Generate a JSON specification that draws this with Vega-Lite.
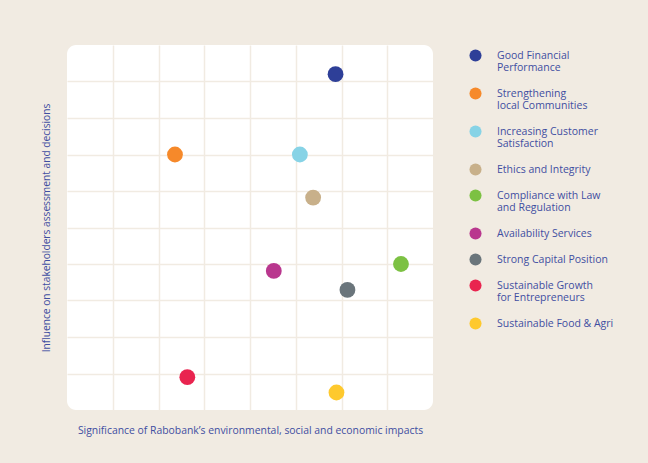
{
  "$schema": "https://vega.github.io/schema/vega-lite/v6.json",
  "width": 366,
  "height": 365,
  "autosize": {"type": "none"},
  "padding": {"left": 67, "top": 45, "right": 215, "bottom": 53},
  "background": "#f1ebe2",
  "config": {
    "view": {"fill": "#ffffff", "stroke": null, "cornerRadius": 9},
    "font": "Open Sans",
    "style": {"guide-label": {"lineHeight": 12.8}}
  },
  "data": {
    "values": [
      {"topic": "Good Financial Performance", "significance": 5.87, "influence": 9.2},
      {"topic": "Strengthening local Communities", "significance": 2.36, "influence": 7.0},
      {"topic": "Increasing Customer Satisfaction", "significance": 5.09, "influence": 7.0},
      {"topic": "Ethics and Integrity", "significance": 5.38, "influence": 5.82},
      {"topic": "Compliance with Law and Regulation", "significance": 7.3, "influence": 4.0},
      {"topic": "Availability Services", "significance": 4.52, "influence": 3.81},
      {"topic": "Strong Capital Position", "significance": 6.13, "influence": 3.29},
      {"topic": "Sustainable Growth for Entrepreneurs", "significance": 2.63, "influence": 0.9},
      {"topic": "Sustainable Food & Agri", "significance": 5.89, "influence": 0.48}
    ]
  },
  "mark": {"type": "circle", "size": 250, "opacity": 1},
  "encoding": {
    "x": {
      "field": "significance",
      "type": "quantitative",
      "scale": {"domain": [0, 8], "nice": false, "zero": false},
      "axis": {
        "title": "Significance of Rabobank’s environmental, social and economic impacts",
        "titleFont": "Open Sans",
        "titleFontSize": 10.4,
        "titleFontWeight": "normal",
        "titleColor": "#3f4ea1",
        "titlePadding": 15,
        "values": [1, 2, 3, 4, 5, 6, 7],
        "labels": false,
        "ticks": false,
        "domain": false,
        "grid": true,
        "gridColor": "#f1ebe2",
        "gridWidth": 1.5,
        "gridOpacity": 1
      }
    },
    "y": {
      "field": "influence",
      "type": "quantitative",
      "scale": {"domain": [0, 10], "nice": false, "zero": false},
      "axis": {
        "title": "Influence on stakeholders assessment and decisions",
        "titleFont": "Open Sans",
        "titleFontSize": 10.2,
        "titleFontWeight": "normal",
        "titleColor": "#3f4ea1",
        "titlePadding": 16,
        "values": [1, 2, 3, 4, 5, 6, 7, 8, 9],
        "labels": false,
        "ticks": false,
        "domain": false,
        "grid": true,
        "gridColor": "#f1ebe2",
        "gridWidth": 1.5,
        "gridOpacity": 1
      }
    },
    "color": {
      "field": "topic",
      "type": "nominal",
      "scale": {
        "domain": [
          "Good Financial Performance",
          "Strengthening local Communities",
          "Increasing Customer Satisfaction",
          "Ethics and Integrity",
          "Compliance with Law and Regulation",
          "Availability Services",
          "Strong Capital Position",
          "Sustainable Growth for Entrepreneurs",
          "Sustainable Food & Agri"
        ],
        "range": ["#2e3f98", "#f6892a", "#87d3e6", "#c8b08a", "#7cc143", "#b9378e", "#6a757b", "#e9244f", "#fec92e"]
      },
      "legend": {
        "title": null,
        "orient": "right",
        "offset": 32,
        "padding": 4,
        "symbolType": "circle",
        "symbolSize": 145,
        "symbolStrokeWidth": 0,
        "symbolOpacity": 1,
        "labelFont": "Open Sans",
        "labelFontSize": 10.5,
        "labelColor": "#3f4ea1",
        "labelOffset": 15,
        "labelLimit": 200,
        "rowPadding": 13,
        "labelExpr": "{'Good Financial Performance': ['Good Financial', 'Performance'], 'Strengthening local Communities': ['Strengthening', 'local Communities'], 'Increasing Customer Satisfaction': ['Increasing Customer', 'Satisfaction'], 'Compliance with Law and Regulation': ['Compliance with Law', 'and Regulation'], 'Sustainable Growth for Entrepreneurs': ['Sustainable Growth', 'for Entrepreneurs']}[datum.label] || datum.label"
      }
    }
  }
}
